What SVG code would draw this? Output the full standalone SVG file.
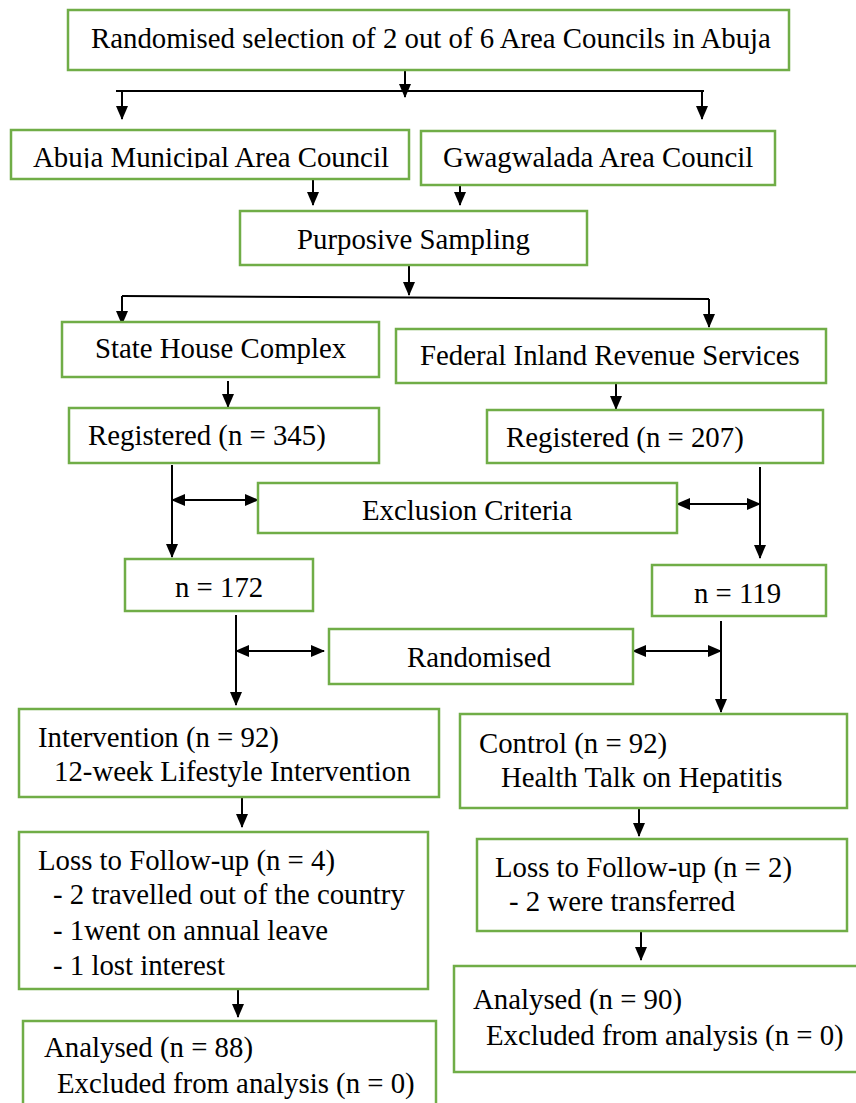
<svg xmlns="http://www.w3.org/2000/svg" width="856" height="1103" viewBox="0 0 856 1103">
<style>
.box{fill:#fff;stroke:#70AD47;stroke-width:2.5}
text{font-family:'Liberation Serif',Tinos,'DejaVu Serif',serif;font-size:28.8px;fill:#000}
.c{stroke:#000;stroke-width:2;fill:none}
</style>
<defs>
<marker id="ah" viewBox="0 0 14 12" refX="13" refY="6" markerWidth="14" markerHeight="12" markerUnits="userSpaceOnUse" orient="auto-start-reverse">
<path d="M0,0 L14,6 L0,12 z" fill="#000"/>
</marker>
<clipPath id="clipAbuja"><rect x="11" y="130" width="399" height="38"/></clipPath>
</defs>
<rect width="856" height="1103" fill="#fff"/>

<g id="connectors">
<line class="c" x1="405" y1="70" x2="405" y2="97" marker-end="url(#ah)"/>
<line class="c" x1="116" y1="91" x2="704" y2="91"/>
<line class="c" x1="122" y1="91" x2="122" y2="119" marker-end="url(#ah)"/>
<line class="c" x1="702" y1="91" x2="702" y2="119" marker-end="url(#ah)"/>
<line class="c" x1="313" y1="178" x2="313" y2="205" marker-end="url(#ah)"/>
<line class="c" x1="460" y1="180" x2="460" y2="205" marker-end="url(#ah)"/>
<line class="c" x1="409" y1="265" x2="409" y2="295" marker-end="url(#ah)"/>
<polyline class="c" points="122,296 709,299"/>
<line class="c" x1="122" y1="296" x2="122" y2="324" marker-end="url(#ah)"/>
<line class="c" x1="709" y1="299" x2="709" y2="327" marker-end="url(#ah)"/>
<line class="c" x1="228" y1="381" x2="228" y2="407" marker-end="url(#ah)"/>
<line class="c" x1="616" y1="383" x2="616" y2="409" marker-end="url(#ah)"/>
<line class="c" x1="172" y1="465" x2="172" y2="557" marker-end="url(#ah)"/>
<line class="c" x1="172" y1="500" x2="258" y2="500" marker-start="url(#ah)" marker-end="url(#ah)"/>
<line class="c" x1="760" y1="467" x2="760" y2="558" marker-end="url(#ah)"/>
<line class="c" x1="677" y1="504" x2="760" y2="504" marker-start="url(#ah)" marker-end="url(#ah)"/>
<line class="c" x1="236" y1="615" x2="236" y2="705" marker-end="url(#ah)"/>
<line class="c" x1="236" y1="651" x2="324" y2="651" marker-start="url(#ah)" marker-end="url(#ah)"/>
<line class="c" x1="721" y1="621" x2="721" y2="712" marker-end="url(#ah)"/>
<line class="c" x1="633" y1="651" x2="721" y2="651" marker-start="url(#ah)" marker-end="url(#ah)"/>
<line class="c" x1="242" y1="797" x2="242" y2="827" marker-end="url(#ah)"/>
<line class="c" x1="639" y1="808" x2="639" y2="836" marker-end="url(#ah)"/>
<line class="c" x1="238" y1="989" x2="238" y2="1017" marker-end="url(#ah)"/>
<line class="c" x1="641" y1="931" x2="641" y2="960" marker-end="url(#ah)"/>
</g>

<g id="n-top">
<rect class="box" x="68" y="10" width="721" height="60"/>
<text x="91" y="48">Randomised selection of 2 out of 6 Area Councils in Abuja</text>
</g>
<g id="n-amac">
<rect class="box" x="11" y="130" width="398" height="49"/>
<text x="33" y="167" clip-path="url(#clipAbuja)">Abuja Municipal Area Council</text>
</g>
<g id="n-gwag">
<rect class="box" x="421" y="131" width="354" height="54"/>
<text x="443" y="167">Gwagwalada Area Council</text>
</g>
<g id="n-purposive">
<rect class="box" x="240" y="211" width="347" height="54"/>
<text x="297" y="249">Purposive Sampling</text>
</g>
<g id="n-statehouse">
<rect class="box" x="62" y="322" width="317" height="55"/>
<text x="95" y="358">State House Complex</text>
</g>
<g id="n-firs">
<rect class="box" x="396" y="329" width="430" height="54"/>
<text x="420" y="365">Federal Inland Revenue Services</text>
</g>
<g id="n-reg345">
<rect class="box" x="69" y="408" width="310" height="55"/>
<text x="88" y="445">Registered (n = 345)</text>
</g>
<g id="n-reg207">
<rect class="box" x="487" y="410" width="336" height="53"/>
<text x="506" y="447">Registered (n = 207)</text>
</g>
<g id="n-exclusion">
<rect class="box" x="258" y="483" width="419" height="50"/>
<text x="362" y="520">Exclusion Criteria</text>
</g>
<g id="n-172">
<rect class="box" x="125" y="559" width="188" height="52"/>
<text x="175" y="597">n = 172</text>
</g>
<g id="n-119">
<rect class="box" x="652" y="565" width="174" height="51"/>
<text x="694" y="603">n = 119</text>
</g>
<g id="n-randomised">
<rect class="box" x="329" y="629" width="304" height="55"/>
<text x="407" y="667">Randomised</text>
</g>
<g id="n-intervention">
<rect class="box" x="19" y="709" width="420" height="88"/>
<text x="38" y="747">Intervention (n = 92)</text>
<text x="54" y="781">12-week Lifestyle Intervention</text>
</g>
<g id="n-control">
<rect class="box" x="460" y="714" width="387" height="94"/>
<text x="479" y="753">Control (n = 92)</text>
<text x="501" y="787">Health Talk on Hepatitis</text>
</g>
<g id="n-loss4">
<rect class="box" x="19" y="832" width="409" height="157"/>
<text x="38" y="870">Loss to Follow-up (n = 4)</text>
<text x="53" y="904">- 2 travelled out of the country</text>
<text x="53" y="940">- 1went on annual leave</text>
<text x="53" y="975">- 1 lost interest</text>
</g>
<g id="n-loss2">
<rect class="box" x="477" y="839" width="370" height="92"/>
<text x="495" y="877">Loss to Follow-up (n = 2)</text>
<text x="509" y="911">- 2 were transferred</text>
</g>
<g id="n-analysed88">
<rect class="box" x="23" y="1021" width="413" height="100"/>
<text x="44" y="1057">Analysed (n = 88)</text>
<text x="57" y="1093">Excluded from analysis (n = 0)</text>
</g>
<g id="n-analysed90">
<rect class="box" x="454" y="966" width="420" height="106"/>
<text x="473" y="1009">Analysed (n = 90)</text>
<text x="486" y="1045">Excluded from analysis (n = 0)</text>
</g>
</svg>
